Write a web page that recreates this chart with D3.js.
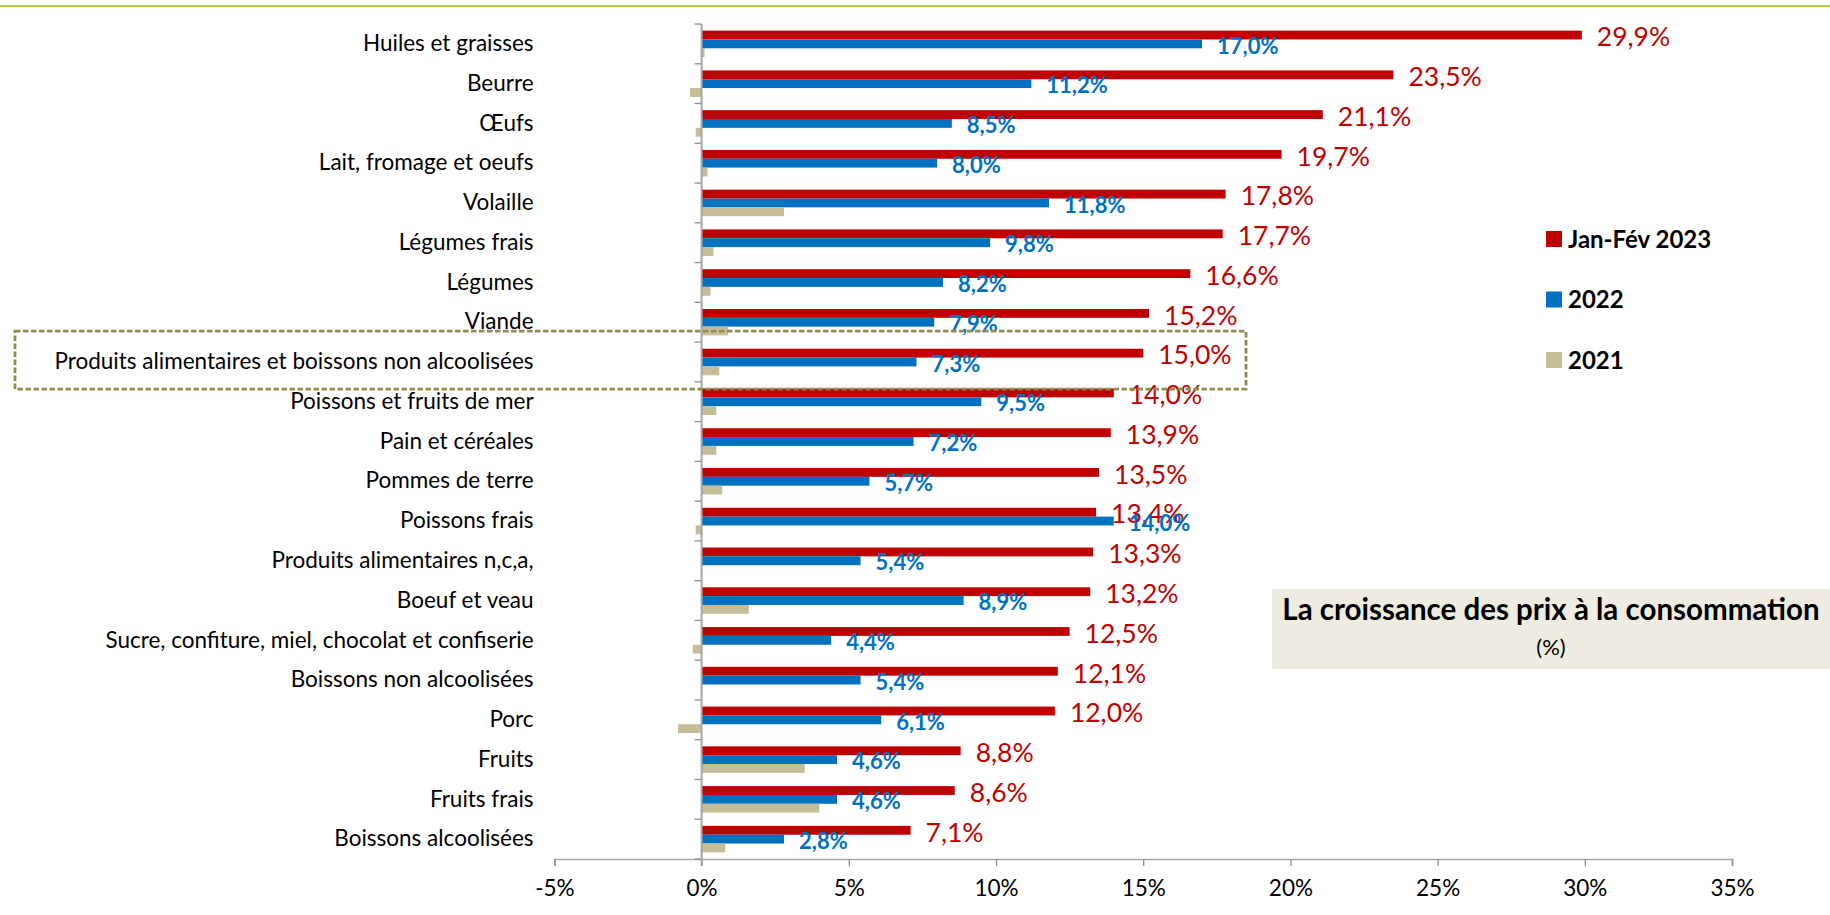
<!DOCTYPE html>
<html>
<head>
<meta charset="utf-8">
<script src="https://cdn.jsdelivr.net/npm/d3@7"></script>
<style>
  html, body { margin: 0; padding: 0; background: #fff; }
  svg { display: block; }
  text { font-family: Lato, "Open Sans", sans-serif; }
</style>
</head>
<body>
<svg id="chart" width="1830" height="915"></svg>
<script>
// ---------- DATA ----------
const categories = [
  "Huiles et graisses",
  "Beurre",
  "Œufs",
  "Lait, fromage et oeufs",
  "Volaille",
  "Légumes frais",
  "Légumes",
  "Viande",
  "Produits alimentaires et boissons non alcoolisées",
  "Poissons et fruits de mer",
  "Pain et céréales",
  "Pommes de terre",
  "Poissons frais",
  "Produits alimentaires n,c,a,",
  "Boeuf et veau",
  "Sucre, confiture, miel, chocolat et confiserie",
  "Boissons non alcoolisées",
  "Porc",
  "Fruits",
  "Fruits frais",
  "Boissons alcoolisées"
];
const values2023 = [29.9, 23.5, 21.1, 19.7, 17.8, 17.7, 16.6, 15.2, 15.0, 14.0, 13.9, 13.5, 13.4, 13.3, 13.2, 12.5, 12.1, 12.0, 8.8, 8.6, 7.1];
const values2022 = [17.0, 11.2, 8.5, 8.0, 11.8, 9.8, 8.2, 7.9, 7.3, 9.5, 7.2, 5.7, 14.0, 5.4, 8.9, 4.4, 5.4, 6.1, 4.6, 4.6, 2.8];
const values2021 = [0.1, -0.4, -0.2, 0.2, 2.8, 0.4, 0.3, 0.9, 0.6, 0.5, 0.5, 0.7, -0.2, 0.0, 1.6, -0.3, 0.0, -0.8, 3.5, 4.0, 0.8];
const seriesNames = ["Jan-Fév 2023", "2022", "2021"];
const xTicks = [-5, 0, 5, 10, 15, 20, 25, 30, 35];
const highlighted = "Produits alimentaires et boissons non alcoolisées";
const titleText = "La croissance des prix à la consommation";
const subtitleText = "(%)";

// ---------- STYLE ----------
const colors = { "Jan-Fév 2023": "#C00000", "2022": "#0070C0", "2021": "#C4BD97" };
const seriesValues = { "Jan-Fév 2023": values2023, "2022": values2022, "2021": values2021 };
const baseSize = 22.5;
const redLabelSize = 26.5;
const blueLabelSize = 22;
const titleSize = 29.5;
const legendSize = 24;

const svg = d3.select("#chart");

// ---------- SCALES ----------
const x = d3.scaleLinear().domain([-5, 35]).range([554.4, 1732]);
const y = d3.scaleBand().domain(categories).range([24, 859]).paddingInner(0).paddingOuter(0);
const yInner = d3.scaleBand().domain(seriesNames).range([0, y.bandwidth()]).paddingInner(0).paddingOuter(0.75);

// top green line
svg.append("line").attr("x1", 0).attr("x2", 1830).attr("y1", 6).attr("y2", 6)
  .attr("stroke", "#A9D04C").attr("stroke-width", 2.2);

// ---------- X AXIS ----------
const xAxis = d3.axisBottom(x).tickValues(xTicks).tickSize(7).tickPadding(14)
  .tickFormat(d => d + "%");
const gx = svg.append("g").attr("transform", `translate(0,${859})`).call(xAxis);
gx.select(".domain").attr("stroke", "#A6A6A6").attr("stroke-width", 1.6);
gx.selectAll(".tick line").attr("stroke", "#8C8C8C").attr("stroke-width", 1.3);
gx.selectAll(".tick text").attr("font-size", baseSize).attr("fill", "#000")
  .attr("font-family", "Lato, sans-serif");

// ---------- BARS ----------
const bars = svg.append("g");
seriesNames.forEach(s => {
  bars.selectAll(null).data(categories).enter().append("rect")
    .attr("x", (c, i) => x(Math.min(0, seriesValues[s][i])))
    .attr("width", (c, i) => Math.abs(x(seriesValues[s][i]) - x(0)))
    .attr("y", c => y(c) + yInner(s))
    .attr("height", yInner.bandwidth())
    .attr("fill", colors[s]);
});

// ---------- Y AXIS ----------
const yAxis = d3.axisLeft(y).tickSize(0).tickPadding(168).tickFormat(d => d);
const gy = svg.append("g").attr("transform", `translate(${x(0)},0)`).call(yAxis);
gy.select(".domain").remove();
gy.selectAll(".tick text").attr("font-size", baseSize).attr("fill", "#000")
  .attr("font-family", "Lato, sans-serif");
// category boundary ticks
const boundaries = categories.map(c => y(c)).concat([y.range()[1]]);
svg.append("g").selectAll("line").data(boundaries).enter().append("line")
  .attr("x1", x(0) - 7).attr("x2", x(0)).attr("y1", d => d).attr("y2", d => d)
  .attr("stroke", "#8C8C8C").attr("stroke-width", 1.3);
svg.append("line").attr("x1", x(0)).attr("x2", x(0)).attr("y1", 24).attr("y2", 866)
  .attr("stroke", "#A6A6A6").attr("stroke-width", 2);

// ---------- DATA LABELS ----------
const labelSeries = [
  { s: "Jan-Fév 2023", weight: "normal", size: redLabelSize },
  { s: "2022", weight: "bold", size: blueLabelSize }
];
const fmt = v => v.toFixed(1).replace(".", ",") + "%";
labelSeries.forEach(({ s, weight, size }) => {
  svg.append("g").selectAll("text").data(categories).enter().append("text")
    .attr("x", (c, i) => x(seriesValues[s][i]) + 15)
    .attr("y", c => y(c) + yInner(s) + yInner.bandwidth() / 2 + 2)
    .attr("dy", "0.35em")
    .attr("font-size", size)
    .attr("font-weight", weight)
    .attr("fill", colors[s])
    .text((c, i) => fmt(seriesValues[s][i]));
});

// ---------- HIGHLIGHT BOX ----------
svg.append("rect")
  .attr("x", 15).attr("y", y(highlighted) - 11)
  .attr("width", 1231).attr("height", 58)
  .attr("fill", "none").attr("stroke", "#948A54").attr("stroke-width", 2.8)
  .attr("stroke-dasharray", "5.5,2.5");

// ---------- LEGEND ----------
const legend = svg.append("g");
seriesNames.forEach((s, i) => {
  const ly = 231 + i * 60.5;
  legend.append("rect").attr("x", 1546).attr("y", ly).attr("width", 16).attr("height", 16).attr("fill", colors[s]);
  legend.append("text").attr("x", 1568).attr("y", ly + 8).attr("dy", "0.36em")
    .attr("font-size", legendSize).attr("font-weight", "bold").attr("fill", "#000").text(s);
});

// ---------- TITLE BOX ----------
svg.append("rect").attr("x", 1272).attr("y", 589).attr("width", 558).attr("height", 80).attr("fill", "#EEECE1");
svg.append("text").attr("x", 1551).attr("y", 620).attr("text-anchor", "middle")
  .attr("font-size", titleSize).attr("font-weight", "bold").attr("fill", "#000").text(titleText);
svg.append("text").attr("x", 1551).attr("y", 655).attr("text-anchor", "middle")
  .attr("font-size", 22).attr("fill", "#000").text(subtitleText);
</script>
</body>
</html>
